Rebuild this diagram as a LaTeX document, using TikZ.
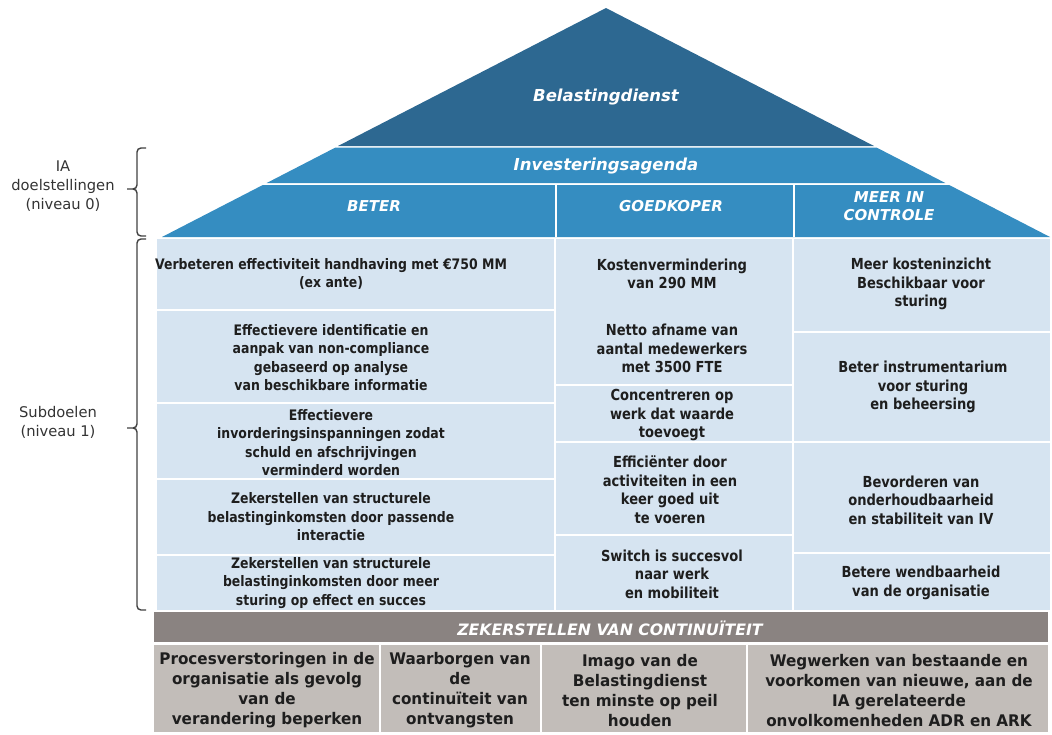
\documentclass[tikz,border=0pt]{standalone}
\usepackage{fontspec}
\setmainfont{DejaVu Sans}
\newfontfamily\cellfont[FakeStretch=0.86]{DejaVu Sans}
\newfontfamily\boxfont[FakeStretch=0.95]{DejaVu Sans}
\definecolor{roofdark}{HTML}{2D6891}
\definecolor{roofband}{HTML}{358DC1}
\definecolor{bodyblue}{HTML}{D6E4F1}
\definecolor{grayband}{HTML}{8A8381}
\definecolor{graybox}{HTML}{C2BDB9}
\definecolor{txt}{HTML}{1E1E1E}
\definecolor{sidetxt}{HTML}{333333}
\tikzset{
  cellA/.style={font=\cellfont\bfseries\fontsize{14.5}{18.5}\selectfont, text=txt, align=center, inner sep=0pt},
  cellB/.style={font=\cellfont\bfseries\fontsize{15.2}{18.5}\selectfont, text=txt, align=center, inner sep=0pt},
  boxtxt/.style={font=\boxfont\bfseries\fontsize{16}{20}\selectfont, text=txt, align=center, inner sep=0pt},
  headtxt/.style={font=\bfseries\itshape\fontsize{16.5}{19}\selectfont, text=white, align=center, inner sep=0pt},
  colhead/.style={font=\bfseries\itshape\fontsize{15}{18}\selectfont, text=white, align=center, inner sep=0pt},
  sidelabel/.style={font=\fontsize{14.7}{19}\selectfont, text=sidetxt, align=center, inner sep=0pt},
  sep/.style={white, line width=1.3pt},
  brk/.style={draw=black!75, line width=1.4pt, line join=round},
}
\begin{document}
\begin{tikzpicture}[x=1pt, y=-1pt]
\useasboundingbox (0,0) rectangle (1052,734);
% roof
\fill[roofdark] (606,8) -- (874,146) -- (338,146) -- cycle;
\fill[roofband] (335.5,147.5) -- (876.5,147.5) -- (945.3,183) -- (266.7,183) -- cycle;
\fill[roofband] (262.8,185) -- (949.2,185) -- (1050,237) -- (162,237) -- cycle;
\draw[sep] (556,185) -- (556,237);
\draw[sep] (794,185) -- (794,237);
\node[headtxt] (roof) at (606,97) {Belastingdienst};
\node[headtxt] (ia) at (606,166) {Investeringsagenda};
\node[colhead] (beter) at (374,206) {BETER};
\node[colhead] (goedkoper) at (671,206) {GOEDKOPER};
\node[colhead] (controle) at (889,206) {MEER IN\\CONTROLE};
% body
\fill[bodyblue] (157,238.5) rectangle (1050,610);
\draw[sep] (555,238.5) -- (555,610);
\draw[sep] (793,238.5) -- (793,610);
\foreach \yy in {310,403,479,555} \draw[sep] (157,\yy) -- (555,\yy);
\foreach \yy in {385,442,535} \draw[sep] (555,\yy) -- (793,\yy);
\foreach \yy in {332,442,553} \draw[sep] (793,\yy) -- (1050,\yy);
% column 1
\node[cellA] (a1) at (331,274) {Verbeteren effectiviteit handhaving met €750 MM\\(ex ante)};
\node[cellA] (a2) at (331,357.5) {Effectievere identificatie en\\aanpak van non-compliance\\gebaseerd op analyse\\van beschikbare informatie};
\node[cellA] (a3) at (331,442.5) {Effectievere\\invorderingsinspanningen zodat\\schuld en afschrijvingen\\verminderd worden};
\node[cellA] (a4) at (331,517) {Zekerstellen van structurele\\belastinginkomsten door passende\\interactie};
\node[cellA] (a5) at (331,583) {Zekerstellen van structurele\\belastinginkomsten door meer\\sturing op effect en succes};
% column 2
\node[cellB] (b1) at (672,274) {Kostenvermindering\\van 290 MM};
\node[cellB] (b2) at (672,348.5) {Netto afname van\\aantal medewerkers\\met 3500 FTE};
\node[cellB] (b3) at (672,415) {Concentreren op\\werk dat waarde\\toevoegt};
\node[cellB] (b4) at (670,489.5) {Efficiënter door\\activiteiten in een\\keer goed uit\\te voeren};
\node[cellB] (b5) at (672,574) {Switch is succesvol\\naar werk\\en mobiliteit};
% column 3
\node[cellB] (c1) at (921,284) {Meer kosteninzicht\\Beschikbaar voor\\sturing};
\node[cellB] (c2) at (923,387) {Beter instrumentarium\\voor sturing\\en beheersing};
\node[cellB] (c3) at (921,500) {Bevorderen van\\onderhoudbaarheid\\en stabiliteit van IV};
\node[cellB] (c4) at (921,583) {Betere wendbaarheid\\van de organisatie};
% continuity
\fill[grayband] (154,612) rectangle (1048,642);
\node[headtxt, font=\bfseries\itshape\fontsize{15.7}{19}\selectfont] (cont) at (610,628) {ZEKERSTELLEN VAN CONTINUÏTEIT};
\fill[graybox] (154,645) rectangle (1048,732);
\draw[white, line width=2pt] (380,645) -- (380,732);
\draw[white, line width=2pt] (541,645) -- (541,732);
\draw[white, line width=2pt] (747,645) -- (747,732);
\node[boxtxt] (d1) at (267,690.5) {Procesverstoringen in de\\organisatie als gevolg\\van de\\verandering beperken};
\node[boxtxt] (d2) at (460,690.5) {Waarborgen van\\de\\continuïteit van\\ontvangsten};
\node[boxtxt] (d3) at (640,690.5) {Imago van de\\Belastingdienst\\ten minste op peil\\houden};
\node[boxtxt] (d4) at (899,690.5) {Wegwerken van bestaande en\\voorkomen van nieuwe, aan de\\IA gerelateerde\\onvolkomenheden ADR en ARK};
% side labels and brackets
\node[sidelabel] (lab0) at (63,186) {IA\\doelstellingen\\(niveau 0)};
\node[sidelabel] (lab1) at (58,422.5) {Subdoelen\\(niveau 1)};
\draw[brk] (146,148) -- (141,148) to[out=180,in=90] (137,152) -- (137,185) to[out=-90,in=0] (133,189) -- (127,189);
\draw[brk] (133,189) to[out=0,in=90] (137,193) -- (137,232) to[out=-90,in=180] (141,236) -- (146,236);
\draw[brk] (146,239) -- (141,239) to[out=180,in=90] (137,243) -- (137,424) to[out=-90,in=0] (133,428) -- (127,428);
\draw[brk] (133,428) to[out=0,in=90] (137,432) -- (137,606) to[out=-90,in=180] (141,610) -- (146,610);
\end{tikzpicture}
\end{document}
